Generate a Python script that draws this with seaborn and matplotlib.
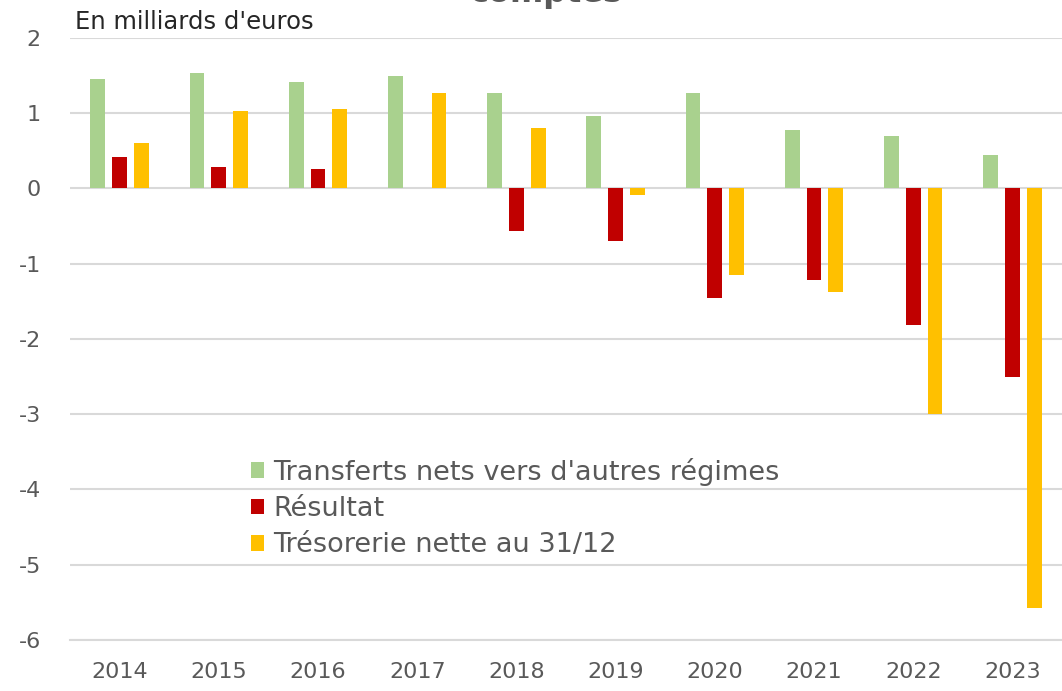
import matplotlib
matplotlib.use("Agg")
import matplotlib.pyplot as plt
import seaborn as sns
import pandas as pd

years = ["2014", "2015", "2016", "2017", "2018", "2019", "2020", "2021", "2022", "2023"]
transferts = [1.45, 1.53, 1.42, 1.49, 1.27, 0.97, 1.27, 0.78, 0.70, 0.44]
resultat = [0.42, 0.28, 0.265, 0.0, -0.56, -0.70, -1.46, -1.21, -1.82, -2.51]
tresorerie = [0.60, 1.03, 1.06, 1.27, 0.80, -0.08, -1.15, -1.37, -3.00, -5.58]
series_names = ["Transferts nets vers d'autres régimes", "Résultat", "Trésorerie nette au 31/12"]
colors = ["#A9D18E", "#C00000", "#FFC000"]

rows = []
for name, vals in zip(series_names, [transferts, resultat, tresorerie]):
    for y, v in zip(years, vals):
        rows.append({"Année": y, "Série": name, "Valeur": v})
df = pd.DataFrame(rows)

sns.set_theme(style="white")
plt.rcParams["font.family"] = ["DejaVu Sans"]

fig = plt.figure(figsize=(10.62, 6.91), dpi=100)
ax = fig.add_axes([70 / 1062, 1 - 640 / 691, 1 - 70 / 1062, (640 - 38) / 691])

sns.barplot(data=df, x="Année", y="Valeur", hue="Série", hue_order=series_names,
            palette=colors, width=0.66, gap=0.32, ax=ax, saturation=1, errorbar=None,
            linewidth=0, zorder=3)

ax.set_ylim(-6, 2)
ax.set_xlim(-0.5, len(years) - 0.5)
ax.set_yticks(range(-6, 3))
ax.set_yticklabels([str(v) for v in range(-6, 3)])
ax.yaxis.grid(True, color="#D9D9D9", linewidth=1.5, zorder=0)
ax.set_axisbelow(True)
for s in ["top", "right", "left"]:
    ax.spines[s].set_visible(False)
ax.spines["bottom"].set_color("#D9D9D9")
ax.spines["bottom"].set_linewidth(1.5)
ax.set_xlabel("")
ax.set_ylabel("")
ax.tick_params(axis="both", length=0, labelsize=16, labelcolor="#595959")
ax.tick_params(axis="y", pad=21)
ax.tick_params(axis="x", pad=16)

leg = ax.legend(loc="upper left", bbox_to_anchor=(170 / 992, 1 - (447 - 38) / 602),
                frameon=False, fontsize=19.5, handlelength=0.5, handleheight=0.5,
                handletextpad=0.32, labelspacing=0.38, borderaxespad=0)
for t in leg.get_texts():
    t.set_color("#595959")

fig.text(75 / 1062, 1 - 22 / 691, "En milliards d'euros", fontsize=17.5, color="#262626",
         va="center", ha="left")
fig.text(546 / 1062, 1 - 2 / 691, "comptes", fontsize=23, fontweight="bold",
         color="#595959", ha="center", va="baseline")

fig.savefig("out.png", dpi=100)
